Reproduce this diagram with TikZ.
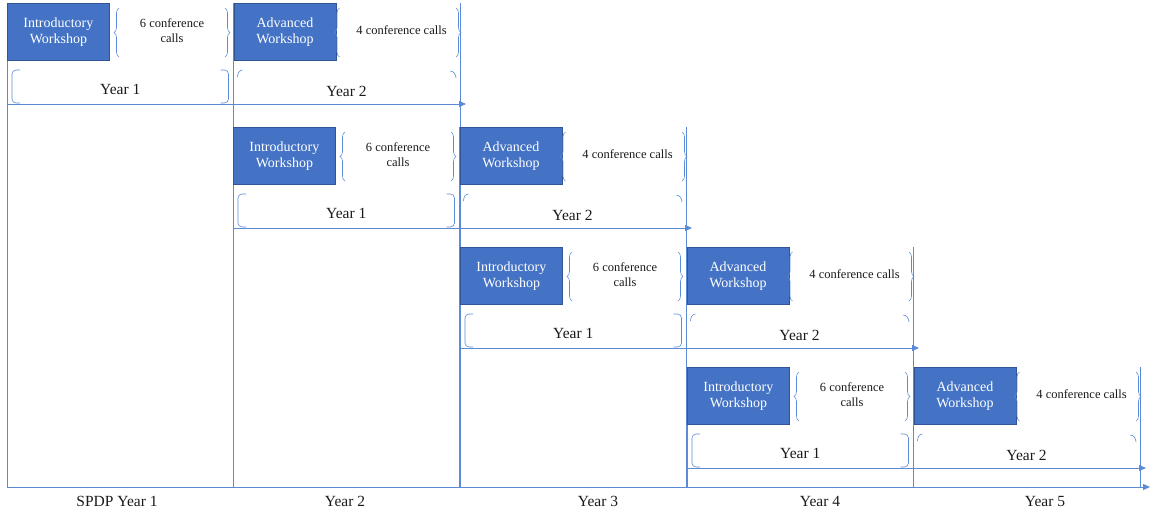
\documentclass[tikz,border=0pt]{standalone}
\usepackage{fontspec}
\setmainfont{Liberation Serif}
\usepackage{tikz}
\usetikzlibrary{arrows.meta,decorations.pathreplacing,positioning}

\definecolor{wsblue}{HTML}{4472C4}
\definecolor{wsedge}{HTML}{2F5597}
\definecolor{lineblue}{HTML}{5B8BD6}
\definecolor{inkgray}{HTML}{1A1A1A}

\begin{document}
\begin{tikzpicture}[
  x=1pt, y=1pt,
  >={Triangle[length=7pt,width=6pt]},
  wsbox/.style={draw=wsedge, line width=0.8pt, fill=wsblue, text=white, align=center, anchor=north west,
    minimum width=102pt, minimum height=57pt, inner sep=0pt, font=\fontsize{14}{16.5}\selectfont},
  callstext/.style={align=center, text=inkgray, font=\fontsize{12.5}{15}\selectfont},
  yearlabel/.style={text=inkgray, font=\fontsize{15.5}{18}\selectfont},
  timeline/.style={draw=lineblue, line width=1pt},
  divider/.style={draw=lineblue, line width=0.9pt},
  curly/.style={draw=lineblue, line width=0.6pt, decorate, decoration={brace, amplitude=5pt}},
  bracket/.style={draw=lineblue, line width=0.6pt, rounded corners=4pt}
]
\useasboundingbox (0,0) rectangle (1152,-517);

% column dividers and row time lines
\foreach \r/\L/\T in {0/7/3, 1/233/127, 2/460/247, 3/687/367} {
  \pgfmathsetmacro\M{\L+226.5}
  \pgfmathsetmacro\E{\L+453}
  \draw[divider] (\L,-\T) -- (\L,-487);
  \draw[divider] (\M,-\T) -- (\M,-487);
  \draw[divider] (\E,-\T) -- (\E,-487);
  \coordinate (rs\r) at (\L,-\T-101);
  \coordinate (re\r) at (\E+6,-\T-101);
  \draw[timeline,->] (rs\r) -- (re\r);
}

% workshops, calls and years
\foreach \r/\L/\T in {0/7/3, 1/233/127, 2/460/247, 3/687/367} {
  \pgfmathsetmacro\M{\L+226.5}
  \pgfmathsetmacro\E{\L+453}
  \node[wsbox] (intro\r) at (\L,-\T) {Introductory\\Workshop};
  \node[wsbox] (adv\r) at (\M,-\T) {Advanced\\Workshop};
  \node[callstext] (six\r) at (\L+165,-\T-28) {6 conference\\calls};
  \node[callstext] (four\r) at (\M+168,-\T-27) {4 conference calls};
  \draw[curly] (\L+112,-\T-54) -- (\L+112,-\T-5);
  \draw[curly] (\L+218,-\T-5) -- (\L+218,-\T-54);
  \draw[curly] (\M+106,-\T-54) -- (\M+106,-\T-5);
  \draw[curly] (\E-4,-\T-5) -- (\E-4,-\T-54);
  \draw[bracket] (\L+13,-\T-67) -- (\L+5,-\T-67) -- (\L+5,-\T-100) -- (\L+13,-\T-100);
  \draw[bracket] (\M-13,-\T-67) -- (\M-5,-\T-67) -- (\M-5,-\T-100) -- (\M-13,-\T-100);
  \draw[bracket] (\M+9,-\T-67) to[out=180,in=90] (\M+4,-\T-74);
  \draw[bracket] (\E-10,-\T-68) to[out=0,in=90] (\E-4,-\T-75);
  \node[yearlabel] (yone\r) at ({(\L+\M)/2},-\T-86) {Year 1};
  \node[yearlabel] (ytwo\r) at (\M+113,-\T-88) {Year 2};
}

% program years
\coordinate (ax0) at (7,-487);
\coordinate (ax1) at (1150,-487);
\draw[timeline,->] (ax0) -- (ax1);
\node[yearlabel] (spdp1) at (117,-501) {SPDP Year 1};
\node[yearlabel] (spdp2) at (345,-501) {Year 2};
\node[yearlabel] (spdp3) at (598,-501) {Year 3};
\node[yearlabel] (spdp4) at (820,-501) {Year 4};
\node[yearlabel] (spdp5) at (1045,-501) {Year 5};

\end{tikzpicture}
\end{document}
